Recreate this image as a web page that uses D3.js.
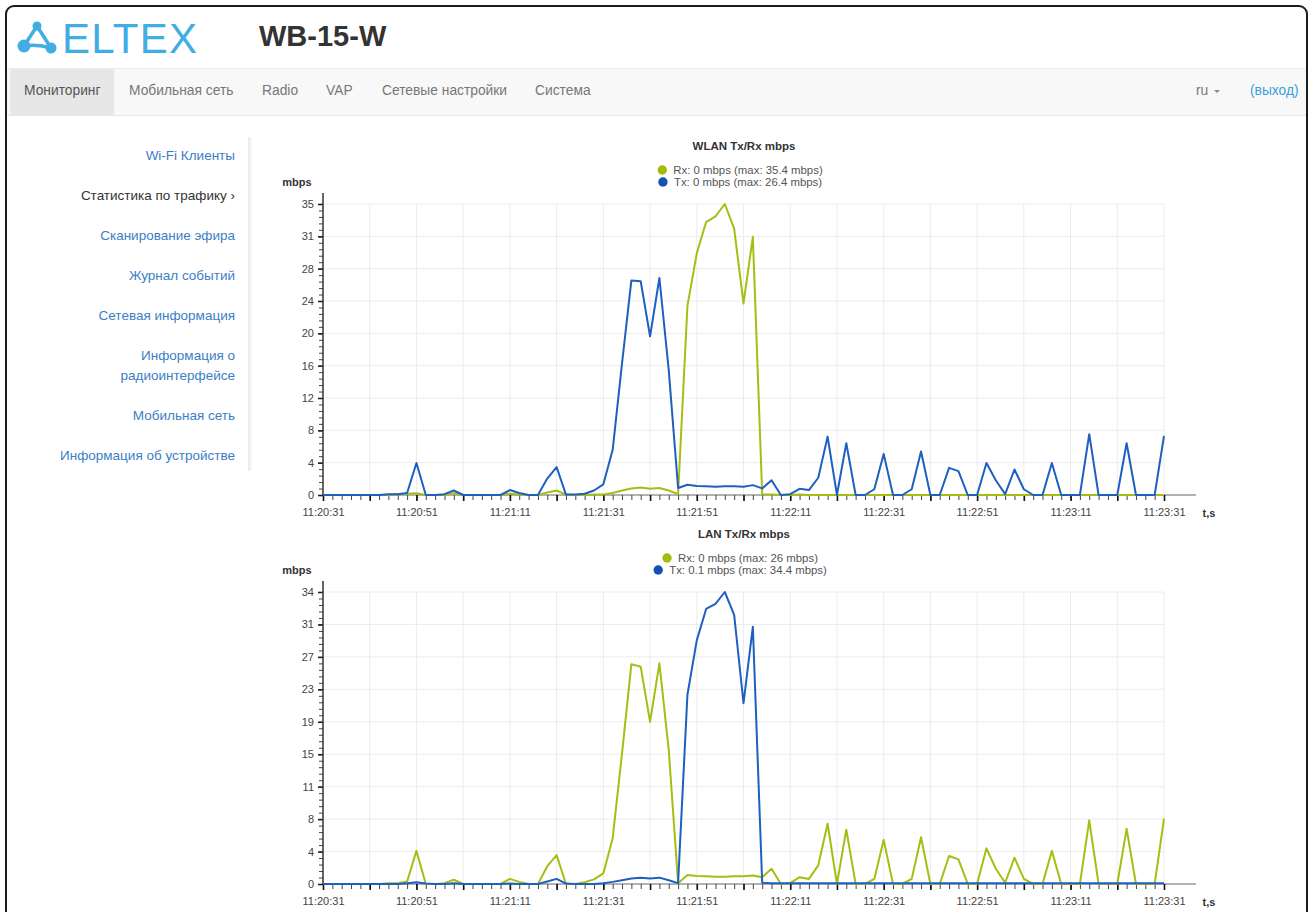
<!DOCTYPE html>
<html>
<head>
<meta charset="utf-8">
<script src="https://cdn.jsdelivr.net/npm/d3@7"></script>
<style>
body { margin:0; width:1310px; height:912px; overflow:hidden; position:relative; background:#fff;
       font-family:"Liberation Sans", Arial, sans-serif; }
.frame { position:absolute; left:5px; top:5px; width:1299px; height:1000px; border:2px solid #1c1c1c; border-radius:9px; }
.title { position:absolute; left:259px; top:20px; font-size:29px; font-weight:bold; color:#333; }
.nav { position:absolute; left:7px; top:68px; width:1299px; height:46px; background:#f8f8f8;
       border-top:1px solid #ececec; border-bottom:1px solid #e7e7e7; }
.nav span { position:absolute; top:14px; font-size:13.8px; color:#777; white-space:nowrap; }
.nav .active { position:absolute; left:3px; top:0; width:104px; height:46px; background:#e7e7e7; }
.nav .act { color:#555; }
.nav .link { color:#3a9fd8; }
.caret { display:inline-block; width:0; height:0; margin-left:6px; vertical-align:middle;
         border-left:3px solid transparent; border-right:3px solid transparent; border-top:3px solid #888; }
.side { position:absolute; left:30px; width:205px; text-align:right; font-size:13.5px; line-height:20px; color:#3c7ec5; }
.side.cur { color:#333; }
.shadow { position:absolute; left:248px; top:137px; width:4px; height:334px;
          background:linear-gradient(to right, #e9e9e9, #fafafa); }
#charts { position:absolute; left:0; top:0; }
</style>
</head>
<body>
<div class="frame"></div>
<svg id="logo" width="210" height="66" style="position:absolute;left:0;top:0"></svg>
<div class="title">WB-15-W</div>
<div class="nav">
  <div class="active"></div>
  <span class="act" style="left:17px">Мониторинг</span>
  <span style="left:122px">Мобильная сеть</span>
  <span style="left:255px">Radio</span>
  <span style="left:319px">VAP</span>
  <span style="left:375px">Сетевые настройки</span>
  <span style="left:528px">Система</span>
  <span style="left:1189px">ru<i class="caret"></i></span>
  <span class="link" style="left:1243px">(выход)</span>
</div>
<div class="side" style="top:146px">Wi-Fi Клиенты</div>
<div class="side cur" style="top:186px">Статистика по трафику ›</div>
<div class="side" style="top:226px">Сканирование эфира</div>
<div class="side" style="top:266px">Журнал событий</div>
<div class="side" style="top:306px">Сетевая информация</div>
<div class="side" style="top:346px">Информация о<br>радиоинтерфейсе</div>
<div class="side" style="top:406px">Мобильная сеть</div>
<div class="side" style="top:446px">Информация об устройстве</div>
<div class="shadow"></div>
<div id="charts"></div>
<script>
// samples every 2 seconds starting at 11:20:31
const startTime = "11:20:31";
const stepSeconds = 2;
const tickLabels = ["11:20:31","11:20:51","11:21:11","11:21:31","11:21:51",
                    "11:22:11","11:22:31","11:22:51","11:23:11","11:23:31"];
const chartTitles = ["WLAN Tx/Rx mbps", "LAN Tx/Rx mbps"];
const wlanLegend = ["Rx: 0 mbps (max: 35.4 mbps)", "Tx: 0 mbps (max: 26.4 mbps)"];
const lanLegend = ["Rx: 0 mbps (max: 26 mbps)", "Tx: 0.1 mbps (max: 34.4 mbps)"];

const wlanRx = [0,0,0,0,0,0,0,0,0.1,0.15,
  0.2,0,0,0,0.2,0,0,0,0,0,
  0.15,0.05,0,0,0.3,0.55,0.05,0,0,0.05,
  0.05,0.25,0.55,0.8,0.9,0.75,0.85,0.55,0.1,23.0,
  29.4,33.2,33.9,35.4,32.4,23.3,31.4,0.1,0.05,0,
  0,0.05,0,0,0,0,0,0,0,0,
  0,0,0,0,0,0,0,0,0,0,
  0,0,0,0,0,0,0,0,0,0,
  0,0,0,0,0,0,0,0,0,0,
  0];
const wlanTx = [0,0,0,0,0,0,0,0.1,0.1,0.25,
  3.9,0,0,0.1,0.55,0,0,0,0,0,
  0.6,0.25,0,0,2.0,3.4,0.05,0.05,0.15,0.55,
  1.3,5.5,16.0,26.1,26.0,19.3,26.4,15.2,0.85,1.25,
  1.1,1.05,1.0,1.05,1.05,1.0,1.2,0.8,1.8,0,
  0.1,0.75,0.6,2.1,7.1,0,6.3,0,0,0.7,
  5.0,0,0,0.7,5.3,0,0,3.3,2.9,0,
  0,3.9,1.8,0.1,3.1,0.7,0,0,3.9,0,
  0,0,7.4,0,0,0,6.3,0,0,0,
  7.2];
const lanRx = [0,0,0,0,0,0,0,0.1,0.1,0.3,
  3.9,0,0,0.1,0.5,0,0,0,0,0,
  0.6,0.25,0,0,2.1,3.4,0,0,0.2,0.55,
  1.25,5.4,15.4,25.9,25.6,19.1,26.0,15.8,0.1,1.05,
  0.95,0.9,0.85,0.85,0.9,0.9,1.0,0.8,1.8,0,
  0.1,0.8,0.6,2.2,7.1,0,6.4,0,0,0.6,
  5.2,0,0,0.6,5.5,0,0,3.3,2.9,0,
  0,4.2,1.8,0.15,3.1,0.6,0,0,3.9,0,
  0,0,7.5,0,0,0,6.5,0,0,0,
  7.7];
const lanTx = [0,0,0,0,0,0,0,0,0,0.1,
  0.2,0.05,0,0,0.1,0,0,0,0,0,
  0.05,0,0,0,0.3,0.6,0.05,0,0,0,
  0.1,0.25,0.45,0.65,0.75,0.65,0.75,0.45,0.1,22.3,
  28.7,32.4,33.0,34.4,31.7,21.3,30.3,0.15,0.1,0.1,
  0.1,0.1,0.1,0.1,0.1,0.1,0.1,0.1,0.1,0.1,
  0.1,0.1,0.1,0.1,0.1,0.1,0.1,0.1,0.1,0.1,
  0.1,0.1,0.1,0.1,0.1,0.1,0.1,0.1,0.1,0.1,
  0.1,0.1,0.1,0.1,0.1,0.1,0.1,0.1,0.1,0.1,
  0.1];

const rxColor = "#a7bd14", txColor = "#1f5fc0";
const font = '"Liberation Sans", Arial, sans-serif';

//logo
var logo = d3.select("#logo");
logo.append("path")
    .attr("d", "M37,26 L24,46 M37,26 L51,48 M24,46 Q38,44 51,48")
    .attr("stroke", "#40ade3").attr("stroke-width", 3.5).attr("fill", "none");
logo.append("circle").attr("cx", 37).attr("cy", 26).attr("r", 4.5).attr("fill", "#40ade3");
logo.append("circle").attr("cx", 24).attr("cy", 46).attr("r", 6.5).attr("fill", "#40ade3");
logo.append("circle").attr("cx", 51).attr("cy", 48).attr("r", 5.5).attr("fill", "#40ade3");
logo.append("text").attr("x", 62).attr("y", 53).text("ELTEX")
    .attr("font-family", font).attr("font-size", 42).attr("fill", "#40ade3")
    .attr("textLength", 135);

//time scale
var parseT = d3.timeParse("%H:%M:%S");
var t0 = parseT(startTime);
var times = wlanRx.map(function(d, i){ return d3.timeSecond.offset(t0, i*stepSeconds); });
var x = d3.scaleTime()
          .domain([t0, times[times.length-1]])
          .range([323, 1164]);

var svg = d3.select("#charts").append("svg")
            .attr("width", 1310)
            .attr("height", 912)
            .style("font-family", font);

function drawChart(title, legend, rx, tx, y0, yTop){
  var max = d3.max(rx.concat(tx));
  var y = d3.scaleLinear().domain([0, max]).range([y0, yTop]);
  var majorY = d3.range(10).map(function(i){ return max*i/9; });
  var minorY = d3.range(46).map(function(i){ return max*i/45; });
  var gridX = times.filter(function(d, i){ return i % 5 == 0; });
  var g = svg.append("g");

  //grid
  g.selectAll(".hgrid").data(majorY.slice(1)).enter().append("line")
    .attr("x1", 323).attr("x2", 1164)
    .attr("y1", function(d){ return y(d); }).attr("y2", function(d){ return y(d); })
    .attr("stroke", "#ececec");
  g.selectAll(".vgrid").data(gridX.slice(1)).enter().append("line")
    .attr("x1", function(d){ return x(d); }).attr("x2", function(d){ return x(d); })
    .attr("y1", yTop).attr("y2", y0)
    .attr("stroke", "#ececec");

  //y axis
  var yMinor = g.append("g").attr("transform", "translate(323,0)")
    .call(d3.axisLeft(y).tickValues(minorY).tickSize(4).tickFormat(""));
  var yMajor = g.append("g").attr("transform", "translate(323,0)")
    .call(d3.axisLeft(y).tickValues(majorY).tickSize(5).tickPadding(4).tickFormat(d3.format(".0f")));
  [yMinor, yMajor].forEach(function(a){ a.select(".domain").remove(); });
  yMinor.selectAll("line").attr("stroke", "#444");
  yMajor.selectAll("line").attr("stroke", "#222").attr("stroke-width", 1.6);
  yMajor.selectAll("text").attr("fill", "#444").attr("font-size", 11).attr("font-family", font);
  g.append("line").attr("x1", 323).attr("x2", 323).attr("y1", yTop - 11).attr("y2", y0)
    .attr("stroke", "#333").attr("stroke-width", 1.5);

  //x axis
  g.append("line").attr("x1", 323).attr("x2", 1196).attr("y1", y0).attr("y2", y0)
    .attr("stroke", "#999").attr("stroke-width", 1.5);
  var xMinor = g.append("g").attr("transform", "translate(0," + y0 + ")")
    .call(d3.axisBottom(x).tickValues(times).tickSize(5).tickFormat(""));
  var xMajor = g.append("g").attr("transform", "translate(0," + y0 + ")")
    .call(d3.axisBottom(x).tickValues(gridX).tickSize(6).tickFormat(""));
  var xLab = g.append("g").attr("transform", "translate(0," + y0 + ")")
    .call(d3.axisBottom(x).tickValues(tickLabels.map(parseT)).tickSize(0).tickPadding(13)
            .tickFormat(d3.timeFormat("%H:%M:%S")));
  [xMinor, xMajor, xLab].forEach(function(a){ a.select(".domain").remove(); });
  xMinor.selectAll("line").attr("stroke", "#444");
  xMajor.selectAll("line").attr("stroke", "#111").attr("stroke-width", 1.6);
  xLab.selectAll("text").attr("fill", "#444").attr("font-size", 11).attr("font-family", font);

  //labels
  g.append("text").attr("x", 297).attr("y", yTop - 18).attr("text-anchor", "middle")
    .attr("font-size", 11).attr("font-weight", "bold").attr("fill", "#333").text("mbps");
  g.append("text").attr("x", 1209).attr("y", y0 + 22).attr("text-anchor", "middle")
    .attr("font-size", 11).attr("font-weight", "bold").attr("fill", "#333").text("t,s");
  g.append("text").attr("x", 744).attr("y", yTop - 54).attr("text-anchor", "middle")
    .attr("font-size", 11.5).attr("font-weight", "bold").attr("fill", "#333").text(title);

  //legend
  [rxColor, txColor].forEach(function(c, i){
    var row = g.append("g");
    var t = row.append("text").attr("y", yTop - 30 + i*12)
      .attr("font-size", 11.4).attr("fill", "#555").text(legend[i]);
    var w = t.node().getComputedTextLength();
    var start = 740 - (w + 16)/2;
    t.attr("x", start + 16);
    row.append("circle").attr("cx", start + 5).attr("cy", yTop - 34 + i*12)
      .attr("r", 4.7).attr("fill", i == 0 ? "#a6ba0c" : "#1550b5");
  });

  //lines
  var line = d3.line()
    .x(function(d, i){ return x(times[i]); })
    .y(function(d){ return y(d); });
  g.append("path").datum(rx).attr("d", line)
    .attr("fill", "none").attr("stroke", rxColor).attr("stroke-width", 2).attr("stroke-linejoin", "round");
  g.append("path").datum(tx).attr("d", line)
    .attr("fill", "none").attr("stroke", txColor).attr("stroke-width", 2).attr("stroke-linejoin", "round");
}

drawChart(chartTitles[0], wlanLegend, wlanRx, wlanTx, 495, 204);
drawChart(chartTitles[1], lanLegend, lanRx, lanTx, 884, 592);
</script>
</body>
</html>
